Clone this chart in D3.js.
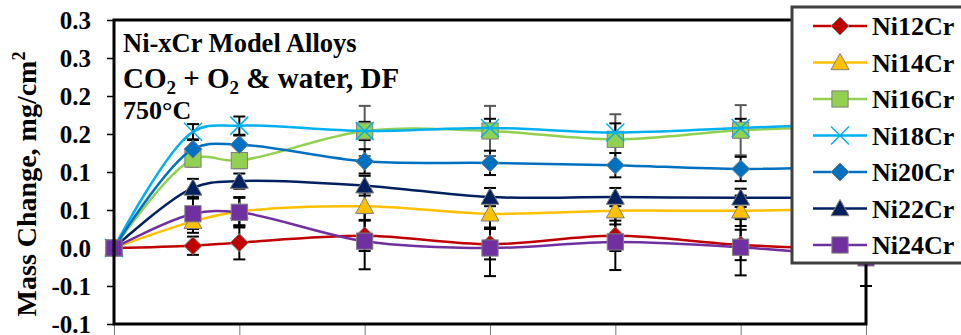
<!DOCTYPE html>
<html>
<head>
<meta charset="utf-8">
<script src="https://cdn.jsdelivr.net/npm/d3@7"></script>
<style>
  body { margin: 0; background: #fff; }
  svg, svg text { font-family: "Liberation Serif", "Times New Roman", serif; }
</style>
</head>
<body>
<div class="canvas"></div>
<script>
// exposure times (x positions) and series
const times = [0, 0.63, 1, 2, 3, 4, 5, 6];
const seriesNames = ['Ni12Cr', 'Ni14Cr', 'Ni16Cr', 'Ni18Cr', 'Ni20Cr', 'Ni22Cr', 'Ni24Cr'];
const ni12 = [0, 0.003, 0.007, 0.016, 0.005, 0.016, 0.004, -0.002];
const ni14 = [0, 0.035, 0.048, 0.055, 0.045, 0.049, 0.049, 0.052];
const ni16 = [0, 0.117, 0.115, 0.154, 0.154, 0.143, 0.155, 0.160];
const ni18 = [0, 0.153, 0.161, 0.154, 0.158, 0.152, 0.158, 0.164];
const ni20 = [0, 0.130, 0.136, 0.114, 0.112, 0.109, 0.104, 0.108];
const ni22 = [0, 0.079, 0.088, 0.082, 0.067, 0.067, 0.066, 0.067];
const ni24 = [0, 0.045, 0.047, 0.009, 0.000, 0.008, 0.001, -0.013];
// error bar half-widths
const ni12Err = [0, 0.012, 0.022, 0.02, 0.02, 0.02, 0.02, 0.02];
const ni14Err = [0, 0.015, 0.018, 0.018, 0.018, 0.018, 0.02, 0.02];
const ni16Err = [0, 0.01, 0.01, 0.033, 0.033, 0.033, 0.033, 0.033];
const ni18Err = [0, 0.01, 0.012, 0.012, 0.012, 0.012, 0.012, 0.012];
const ni20Err = [0, 0.012, 0.012, 0.016, 0.016, 0.016, 0.016, 0.016];
const ni22Err = [0, 0.012, 0.01, 0.013, 0.012, 0.012, 0.012, 0.012];
const ni24Err = [0, 0.02, 0.02, 0.037, 0.037, 0.037, 0.037, 0.037];
const yTicks = [0.3, 0.25, 0.2, 0.15, 0.1, 0.05, 0, -0.05, -0.1];
const yTickLabels = ['0.3', '0.3', '0.2', '0.2', '0.1', '0.1', '0.0', '-0.1', '-0.1'];
const xTicks = [0, 1, 2, 3, 4, 5, 6];

const values = [ni12, ni14, ni16, ni18, ni20, ni22, ni24];
const errors = [ni12Err, ni14Err, ni16Err, ni18Err, ni20Err, ni22Err, ni24Err];
const colors = ['#C00000', '#FFC000', '#92D050', '#00B0F0', '#0070C0', '#002060', '#7030A0'];
const shapes = ['diamond', 'triangle', 'square', 'cross', 'diamond', 'triangle', 'square'];
const errColors = ['#000', '#000', '#595959', '#000', '#000', '#000', '#000'];
const serif = '"Liberation Serif", "Times New Roman", serif';

const series = seriesNames.map((name, i) => ({
  name, color: colors[i], shape: shapes[i], errColor: errColors[i],
  points: times.map((t, j) => ({ t, v: values[i][j], e: errors[i][j] }))
}));

const width = 961, height = 335;
const margin = { top: 20, right: 95, bottom: 11, left: 114 };
const graphWidth = width - margin.left - margin.right;
const graphHeight = height - margin.top - margin.bottom;

const svg = d3.select('.canvas')
  .append('svg')
    .attr('width', width)
    .attr('height', height)
    .attr('font-family', serif);

const graph = svg.append('g')
  .attr('transform', `translate(${margin.left}, ${margin.top})`);

const x = d3.scaleLinear().domain([0, 6]).range([0, graphWidth]);
const y = d3.scaleLinear().domain([-0.1, 0.3]).range([graphHeight, 0]);

// axes
const yAxis = d3.axisLeft(y)
  .tickValues(yTicks)
  .tickFormat((d, i) => yTickLabels[i])
  .tickSize(7)
  .tickPadding(16);
const yAxisGroup = graph.append('g').call(yAxis)
  .attr('font-family', serif);
yAxisGroup.select('.domain').remove();
yAxisGroup.selectAll('line').attr('stroke', '#000').attr('stroke-width', 1.5);
yAxisGroup.selectAll('text')
  .attr('font-size', '25px')
  .attr('font-weight', 'bold')
  .attr('font-family', serif)
  .attr('fill', '#000');

const xAxis = d3.axisBottom(x).tickValues(xTicks).tickSize(12).tickFormat('');
const xAxisGroup = graph.append('g')
  .attr('transform', `translate(0, ${graphHeight})`)
  .call(xAxis);
xAxisGroup.select('.domain').remove();
xAxisGroup.selectAll('line').attr('stroke', '#777').attr('stroke-width', 1);

// error bars
const capW = 6;
series.forEach(s => {
  const eb = graph.append('g')
    .attr('stroke', s.errColor)
    .attr('stroke-width', 2);
  s.points.filter(p => p.e > 0).forEach(p => {
    const cx = x(p.t), y1 = y(p.v + p.e), y2 = y(p.v - p.e);
    eb.append('line').attr('x1', cx).attr('x2', cx).attr('y1', y1).attr('y2', y2);
    eb.append('line').attr('x1', cx - capW).attr('x2', cx + capW).attr('y1', y1).attr('y2', y1);
    eb.append('line').attr('x1', cx - capW).attr('x2', cx + capW).attr('y1', y2).attr('y2', y2);
  });
});

// marker drawing
function drawMarker(sel, shape, color, size) {
  const h = size / 2;
  if (shape === 'diamond') {
    sel.append('path')
      .attr('d', `M0,${-h}L${h},0L0,${h}L${-h},0Z`)
      .attr('fill', color).attr('stroke', '#7f7f7f').attr('stroke-width', 1);
  } else if (shape === 'triangle') {
    sel.append('path')
      .attr('d', `M0,${-h}L${h},${h * 0.8}L${-h},${h * 0.8}Z`)
      .attr('fill', color).attr('stroke', '#7f7f7f').attr('stroke-width', 1);
  } else if (shape === 'square') {
    const q = h * 0.9;
    sel.append('rect')
      .attr('x', -q).attr('y', -q).attr('width', 2 * q).attr('height', 2 * q)
      .attr('fill', color).attr('stroke', '#7f7f7f').attr('stroke-width', 1);
  } else if (shape === 'cross') {
    sel.append('path')
      .attr('d', `M${-h},${-h}L${h},${h}M${-h},${h}L${h},${-h}`)
      .attr('fill', 'none').attr('stroke', color).attr('stroke-width', 1.5);
  }
}

const line = d3.line()
  .x(d => x(d.t))
  .y(d => y(d.v))
  .curve(d3.curveCatmullRom.alpha(0.5));

series.forEach(s => {
  graph.append('path')
    .datum(s.points)
    .attr('fill', 'none')
    .attr('stroke', s.color)
    .attr('stroke-width', 2.5)
    .attr('d', line);
  s.points.forEach(p => {
    const m = graph.append('g').attr('transform', `translate(${x(p.t)}, ${y(p.v)})`);
    drawMarker(m, s.shape, s.color, 18);
  });
});

// plot frame
graph.append('rect')
  .attr('width', graphWidth)
  .attr('height', graphHeight)
  .attr('fill', 'none')
  .attr('stroke', '#000')
  .attr('stroke-width', 3);

// annotation text
const note = graph.append('g')
  .attr('font-weight', 'bold')
  .attr('font-family', serif)
  .attr('fill', '#000');
note.append('text').attr('x', 9).attr('y', 32)
  .attr('font-size', '26.5px').text('Ni-xCr Model Alloys');
const l2 = note.append('text').attr('x', 9).attr('y', 68).attr('font-size', '29px');
l2.append('tspan').text('CO');
l2.append('tspan').attr('font-size', '19px').attr('dy', 6).text('2');
l2.append('tspan').attr('dy', -6).text(' + O');
l2.append('tspan').attr('font-size', '19px').attr('dy', 6).text('2');
l2.append('tspan').attr('dy', -6).text(' & water, DF');
note.append('text').attr('x', 9).attr('y', 99)
  .attr('font-size', '26px').text('750°C');

// y axis title
const yTitle = svg.append('text')
  .attr('transform', `translate(36, 184) rotate(-90)`)
  .attr('text-anchor', 'middle')
  .attr('font-size', '28px')
  .attr('font-weight', 'bold')
  .attr('font-family', serif)
  .attr('fill', '#000');
yTitle.append('tspan').text('Mass Change, mg/cm');
yTitle.append('tspan').attr('font-size', '18px').attr('dy', -11).text('2');

// legend
const legend = svg.append('g').attr('transform', 'translate(792, 7)');
legend.append('rect')
  .attr('width', 200).attr('height', 256)
  .attr('fill', '#fff')
  .attr('stroke', '#404040')
  .attr('stroke-width', 3);
series.forEach((s, i) => {
  const row = legend.append('g').attr('transform', `translate(0, ${19 + i * 36.5})`);
  row.append('line')
    .attr('x1', 21).attr('x2', 75)
    .attr('stroke', s.color).attr('stroke-width', 2.5);
  drawMarker(row.append('g').attr('transform', 'translate(48, 0)'), s.shape, s.color, 18);
  row.append('text')
    .attr('x', 80).attr('y', 9)
    .attr('font-size', '26px')
    .attr('font-weight', 'bold')
    .attr('font-family', serif)
    .attr('fill', '#000')
    .text(s.name);
});
</script>
</body>
</html>
